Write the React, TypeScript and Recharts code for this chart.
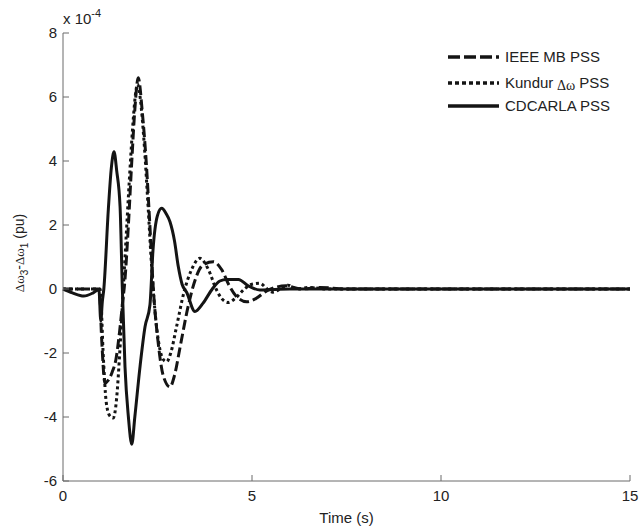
import { LineChart, Line, XAxis, YAxis } from "recharts";

// values in units of 1e-4 pu, time in seconds
const ieeeTime = [0, 0.5, 0.96, 1.02, 1.11, 1.2, 1.3, 1.4, 1.5, 1.57, 1.64, 1.73, 1.82, 1.9, 1.99, 2.1, 2.2, 2.3, 2.39, 2.52, 2.65, 2.83, 2.95, 3.1, 3.3, 3.5, 3.7, 3.98, 4.2, 4.4, 4.6, 4.86, 5.1, 5.4, 5.9, 6.3, 6.8, 7.5, 10, 15];
const ieeeValue = [0, 0, 0, -1.5, -2.94, -2.85, -2.6, -2.2, -1.3, -0.5, 0.3, 2.0, 4.0, 5.6, 6.6, 5.5, 4.0, 1.95, 0, -1.7, -2.7, -3.06, -2.7, -1.8, -0.6, 0.3, 0.75, 0.85, 0.6, 0.1, -0.25, -0.4, -0.3, -0.05, 0.1, 0, 0.05, 0, 0, 0];

const kundurTime = [0, 0.5, 0.98, 1.07, 1.14, 1.23, 1.33, 1.42, 1.5, 1.58, 1.66, 1.75, 1.84, 1.93, 1.97, 2.05, 2.15, 2.25, 2.35, 2.45, 2.55, 2.65, 2.74, 2.85, 3.0, 3.2, 3.4, 3.62, 3.85, 4.05, 4.2, 4.37, 4.55, 4.8, 5.0, 5.21, 5.4, 5.55, 5.75, 5.95, 6.2, 6.5, 7.0, 10, 15];
const kundurValue = [0, 0, 0, -2.2, -3.5, -3.95, -4.03, -3.4, -2.0, -0.3, 1.4, 3.3, 5.0, 6.2, 6.4, 5.9, 4.5, 2.6, 0.6, -0.9, -1.8, -2.2, -2.27, -2.0, -1.2, -0.1, 0.6, 0.96, 0.6, 0, -0.3, -0.42, -0.3, 0, 0.15, 0.18, 0, -0.1, 0, 0.12, 0, 0.05, 0, 0, 0];

const cdcarlaTime = [0, 0.25, 0.55, 0.8, 0.95, 1.0, 1.04, 1.08, 1.2, 1.28, 1.35, 1.42, 1.51, 1.57, 1.64, 1.73, 1.82, 1.9, 2.04, 2.17, 2.3, 2.38, 2.5, 2.61, 2.73, 2.83, 2.95, 3.05, 3.15, 3.27, 3.49, 3.7, 3.95, 4.15, 4.33, 4.64, 4.9, 5.21, 6, 8, 15];
const cdcarlaValue = [0, -0.12, -0.22, -0.12, -0.02, -1.0, -0.4, 0, 2.5, 3.8, 4.29, 3.7, 2.57, 0, -2.43, -4.0, -4.85, -4.0, -2.4, -1.18, -0.5, 1.2, 2.3, 2.52, 2.35, 2.1, 1.5, 0.7, 0.15, -0.1, -0.7, -0.45, 0, 0.25, 0.3, 0.3, 0.1, -0.03, 0, 0, 0];

const xTicks = [0, 5, 10, 15];
const yTicks = [-6, -4, -2, 0, 2, 4, 6, 8];

const toPoints = (t: number[], v: number[]) => t.map((x, i) => ({ t: x, v: v[i] }));

const FONT = "Arial, 'Liberation Sans', Helvetica, sans-serif";
const SERIF = "'Liberation Serif', 'DejaVu Serif', serif";
const INK = "#141414";
const AXIS = "#6b6b6b";

function XTick(props: any) {
  const { x, y, payload } = props;
  return (
    <g>
      <line x1={x} x2={x} y1={y} y2={y - 6} stroke={AXIS} strokeWidth={1} />
      <text x={x} y={y + 20} textAnchor="middle" fontSize={15} fontFamily={FONT} fill="#222">
        {payload.value}
      </text>
    </g>
  );
}

function YTick(props: any) {
  const { x, y, payload } = props;
  return (
    <g>
      <line x1={x} x2={x + 6} y1={y} y2={y} stroke={AXIS} strokeWidth={1} />
      <text x={x - 6} y={y + 5} textAnchor="end" fontSize={15} fontFamily={FONT} fill="#222">
        {payload.value}
      </text>
    </g>
  );
}

function YLabel() {
  const cx = 24;
  const cy = 253;
  return (
    <text
      transform={`rotate(-90, ${cx}, ${cy})`}
      x={cx}
      y={cy}
      textAnchor="middle"
      fontSize={14}
      fontFamily={FONT}
      fill="#222"
    >
      <tspan fontFamily={SERIF} fontSize={13}>Δω</tspan>
      <tspan fontSize={10} dy={4}>3</tspan>
      <tspan dy={-4}>-</tspan>
      <tspan fontFamily={SERIF} fontSize={13}>Δω</tspan>
      <tspan fontSize={10} dy={4}>1</tspan>
      <tspan dy={-4}> (pu)</tspan>
    </text>
  );
}

function Overlay() {
  const rows = [
    { y: 57, dash: "12 4", label: "IEEE MB PSS" },
    { y: 83, dash: "4 3", label: "Kundur" },
    { y: 106, dash: undefined, label: "CDCARLA PSS" },
  ];
  return (
    <svg
      width={643}
      height={530}
      style={{ position: "absolute", left: 0, top: 0, pointerEvents: "none" }}
    >
      <text x={63} y={24} fontSize={15} fontFamily={FONT} fill="#222">
        x 10
        <tspan fontSize={11} dy={-7}>-4</tspan>
      </text>
      {rows.map((r) => (
        <g key={r.label}>
          <line
            x1={448}
            x2={499}
            y1={r.y}
            y2={r.y}
            stroke={INK}
            strokeWidth={3.5}
            strokeDasharray={r.dash}
          />
          <text x={505} y={r.y + 5} fontSize={15} fontFamily={FONT} fill="#222">
            {r.label}
            {r.label === "Kundur" && (
              <>
                <tspan fontFamily={SERIF} fontSize={14} dy={2}> Δω</tspan>
                <tspan dy={-2}> PSS</tspan>
              </>
            )}
          </text>
        </g>
      ))}
    </svg>
  );
}

export default function App() {
  return (
    <div style={{ position: "absolute", left: 0, top: 0, width: 643, height: 530, background: "#fff" }}>
      <LineChart width={643} height={530} margin={{ top: 33, right: 13, bottom: 0, left: 0 }}>
        <XAxis
          dataKey="t"
          type="number"
          domain={[0, 15]}
          ticks={xTicks}
          height={49}
          tickSize={0}
          tickMargin={0}
          tick={<XTick />}
          stroke={AXIS}
          allowDuplicatedCategory={false}
          label={(p: any) => (
            <text
              x={p.viewBox.x + p.viewBox.width / 2}
              y={523}
              textAnchor="middle"
              fontSize={15}
              fontFamily={FONT}
              fill="#222"
            >
              Time (s)
            </text>
          )}
        />
        <YAxis
          type="number"
          domain={[-6, 8]}
          ticks={yTicks}
          width={63}
          tickSize={0}
          tickMargin={0}
          tick={<YTick />}
          stroke={AXIS}
          label={<YLabel />}
        />
        <Line
          data={toPoints(ieeeTime, ieeeValue)}
          dataKey="v"
          type="monotone"
          stroke={INK}
          strokeWidth={3}
          strokeDasharray="10 4"
          dot={false}
          isAnimationActive={false}
        />
        <Line
          data={toPoints(kundurTime, kundurValue)}
          dataKey="v"
          type="monotone"
          stroke={INK}
          strokeWidth={3}
          strokeDasharray="3 3"
          dot={false}
          isAnimationActive={false}
        />
        <Line
          data={toPoints(cdcarlaTime, cdcarlaValue)}
          dataKey="v"
          type="monotone"
          stroke={INK}
          strokeWidth={3}
          dot={false}
          isAnimationActive={false}
        />
      </LineChart>
      <Overlay />
    </div>
  );
}
